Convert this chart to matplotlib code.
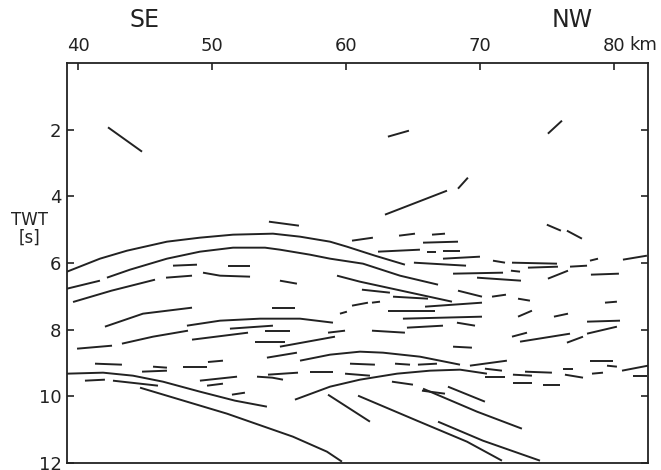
import matplotlib
matplotlib.use('Agg')
import matplotlib.pyplot as plt
import matplotlib.transforms as mtransforms

plt.rc('font', family='DejaVu Sans')

# distance along profile (km) and two-way time (s)
x_ticks = [40, 50, 60, 70, 80]
x_tick_labels = ['40', '50', '60', '70', '80']
y_ticks = [2, 4, 6, 8, 10, 12]
y_tick_labels = ['2', '4', '6', '8', '10', '12']

# long continuous reflectors: lists of (km, s)
curve_a = [(39.18, 6.26), (41.64, 5.87), (43.66, 5.63), (46.64, 5.36), (49.10, 5.24), (51.57, 5.15),
           (54.55, 5.12), (56.57, 5.21), (58.81, 5.36), (60.07, 5.51), (62.16, 5.78), (64.40, 6.05)]
curve_b = [(42.16, 6.44), (43.88, 6.20), (46.64, 5.87), (49.10, 5.66), (51.57, 5.54), (53.96, 5.54),
           (55.07, 5.60), (57.31, 5.75), (58.81, 5.87), (61.27, 6.02), (64.03, 6.38), (66.87, 6.65)]
curve_c = [(59.33, 6.38), (61.04, 6.56), (67.91, 7.16)]
curve_left = [(39.63, 7.17), (42.50, 6.83), (45.75, 6.50)]
curve_d = [(48.13, 7.88), (50.60, 7.73), (53.58, 7.67), (56.57, 7.67), (59.03, 7.79)]
curve_e = [(56.57, 8.93), (58.81, 8.75), (61.04, 8.66), (62.76, 8.69), (65.52, 8.81), (68.51, 9.05)]
curve_f = [(39.18, 9.32), (41.87, 9.29), (44.10, 9.38), (46.34, 9.56), (49.10, 9.86), (51.72, 10.13),
           (54.10, 10.31)]
curve_g = [(44.63, 9.74), (51.12, 10.52), (56.04, 11.21), (58.58, 11.66), (59.70, 11.96)]
curve_h = [(56.19, 10.10), (58.81, 9.71), (61.04, 9.50), (63.81, 9.32), (66.27, 9.23), (68.51, 9.20),
           (70.52, 9.32)]
dip_i = [(58.66, 9.95), (61.79, 10.76)]
dip_j = [(60.90, 9.98), (65.30, 10.73), (69.03, 11.36), (71.64, 11.93)]
dip_k = [(66.87, 10.76), (70.22, 11.33), (74.48, 11.93)]
dip_l = [(65.75, 9.77), (69.78, 10.46), (73.13, 10.97)]
dip_m = [(67.61, 9.71), (70.37, 10.16)]
arc_upper_left = [(42.01, 7.91), (44.85, 7.52), (48.51, 7.34)]
arc_mid_left = [(43.28, 8.42), (45.60, 8.21), (48.21, 8.03)]
dash_curved_1 = [(49.33, 6.29), (50.60, 6.38), (52.84, 6.41)]
dash_curved_2 = [(53.36, 9.41), (54.50, 9.44), (55.30, 9.50)]

long_lines = [curve_a, curve_b, curve_c, curve_left, curve_d, curve_e, curve_f, curve_g, curve_h,
              dip_i, dip_j, dip_k, dip_l, dip_m, arc_upper_left, arc_mid_left,
              dash_curved_1, dash_curved_2]

# short reflector segments: (km1, s1, km2, s2)
shallow_dashes = [
    (42.24, 1.93, 44.78, 2.66), (63.13, 2.21, 64.70, 2.03), (75.07, 2.12, 76.12, 1.73),
    (62.91, 4.55, 67.54, 3.83), (68.36, 3.77, 69.10, 3.44), (74.99, 4.85, 76.04, 5.03),
    (76.49, 5.03, 77.61, 5.27), (54.25, 4.76, 56.49, 4.88),
]
upper_dashes = [
    (60.45, 5.33, 62.01, 5.24), (63.96, 5.18, 65.15, 5.12), (66.42, 5.15, 67.39, 5.12),
    (65.75, 5.39, 68.36, 5.36), (62.39, 5.66, 65.52, 5.60), (66.04, 5.66, 66.72, 5.66),
    (67.24, 5.63, 68.51, 5.63), (67.24, 5.87, 70.00, 5.81), (70.97, 5.93, 71.87, 5.99),
    (72.39, 5.99, 75.75, 6.02), (80.67, 5.90, 82.46, 5.78), (65.07, 5.99, 68.96, 6.08),
    (73.58, 6.14, 75.82, 6.11), (75.07, 6.47, 76.57, 6.23), (76.72, 6.11, 77.99, 6.08),
    (78.21, 5.93, 78.81, 5.87), (78.28, 6.35, 80.37, 6.32), (67.99, 6.32, 71.72, 6.29),
    (72.31, 6.23, 72.99, 6.26), (69.78, 6.44, 73.06, 6.53), (61.19, 6.80, 63.28, 6.89),
    (63.51, 7.01, 66.12, 7.07), (65.90, 7.31, 70.15, 7.19), (68.36, 6.83, 70.15, 7.01),
    (70.90, 7.01, 71.94, 6.95), (72.84, 7.07, 73.73, 7.13), (79.33, 7.19, 80.22, 7.16),
    (59.55, 7.52, 60.07, 7.46), (60.45, 7.28, 61.64, 7.19), (61.94, 7.19, 62.54, 7.16),
    (63.13, 7.43, 66.64, 7.43), (47.09, 6.08, 48.88, 6.05), (51.19, 6.08, 52.84, 6.08),
    (46.57, 6.44, 48.51, 6.38), (55.07, 6.53, 56.34, 6.62), (54.48, 7.34, 56.19, 7.34),
    (39.18, 6.77, 41.64, 6.53),
]
middle_dashes = [
    (51.34, 7.97, 54.55, 7.88), (53.96, 8.03, 55.82, 8.03), (58.66, 8.09, 59.93, 8.03),
    (39.93, 8.57, 42.54, 8.48), (48.51, 8.30, 52.69, 8.09), (53.21, 8.36, 55.45, 8.36),
    (55.07, 8.51, 59.18, 8.21), (54.10, 8.84, 56.34, 8.69), (64.25, 7.67, 70.15, 7.61),
    (64.55, 7.94, 67.24, 7.88), (68.28, 7.79, 69.63, 7.88), (61.94, 8.03, 64.40, 8.09),
    (67.99, 8.51, 69.40, 8.54), (72.84, 7.61, 73.88, 7.43), (75.52, 7.61, 76.57, 7.52),
    (77.99, 7.76, 80.45, 7.73), (77.99, 8.12, 80.22, 7.91), (72.39, 8.21, 73.51, 8.09),
    (72.99, 8.36, 76.72, 8.12), (76.49, 8.39, 77.69, 8.21),
]
deep_dashes = [
    (41.27, 9.02, 43.28, 9.05), (45.60, 9.11, 46.64, 9.14), (44.78, 9.26, 46.64, 9.23),
    (47.84, 9.11, 49.63, 9.11), (49.70, 8.97, 50.82, 8.93), (60.30, 9.02, 62.16, 9.05),
    (63.66, 9.02, 64.78, 9.05), (65.37, 9.05, 66.79, 9.02), (69.25, 9.08, 72.01, 8.93),
    (70.37, 9.17, 71.64, 9.23), (78.21, 8.93, 79.93, 8.93), (79.48, 9.08, 80.22, 9.11),
    (80.60, 9.23, 82.54, 9.08), (40.52, 9.53, 42.01, 9.50), (42.61, 9.53, 45.97, 9.68),
    (49.10, 9.53, 51.87, 9.41), (54.18, 9.35, 56.42, 9.29), (57.31, 9.26, 59.03, 9.26),
    (59.93, 9.32, 61.79, 9.38), (70.37, 9.41, 71.87, 9.41), (72.46, 9.35, 73.88, 9.38),
    (73.36, 9.26, 75.37, 9.29), (76.19, 9.17, 76.94, 9.17), (76.34, 9.35, 77.69, 9.44),
    (78.36, 9.32, 79.18, 9.29), (81.42, 9.38, 82.46, 9.38), (49.63, 9.68, 50.82, 9.62),
    (51.49, 9.95, 52.46, 9.89), (63.43, 9.56, 65.00, 9.65), (65.67, 9.83, 67.39, 9.92),
    (72.46, 9.59, 73.88, 9.59), (74.70, 9.65, 75.97, 9.65),
]

ink = '#222222'
lw = 1.4

fig = plt.figure(figsize=(6.61, 4.70), dpi=100)
ax = fig.add_axes([67 / 661, 1 - 463 / 470, 581 / 661, 400 / 470])

for line in long_lines:
    xs = [p[0] for p in line]
    ys = [p[1] for p in line]
    ax.plot(xs, ys, color=ink, lw=lw, solid_capstyle='butt')

for group in (shallow_dashes, upper_dashes, middle_dashes, deep_dashes):
    for x1, y1, x2, y2 in group:
        ax.plot([x1, x2], [y1, y2], color=ink, lw=lw, solid_capstyle='butt')

ax.set_xlim(39.18, 82.54)
ax.set_ylim(12, 0)

ax.xaxis.tick_top()
ax.set_xticks(x_ticks)
ax.set_xticklabels(x_tick_labels)
ax.set_yticks(y_ticks)
ax.set_yticklabels(y_tick_labels)
ax.tick_params(axis='x', direction='in', length=5, width=1.2, pad=6, labelsize=13, colors=ink,
               top=True, bottom=False)
ax.tick_params(axis='y', direction='in', length=5, width=1.2, pad=4, labelsize=13, colors=ink,
               left=True, right=True)
for sp in ax.spines.values():
    sp.set_linewidth(1.3)
    sp.set_color(ink)

trans = mtransforms.blended_transform_factory(ax.transData, ax.transAxes)
ax.text(81.15, 1.0 + 9 / 400, 'km', transform=trans, ha='left', va='bottom', fontsize=13, color=ink)
ax.text(45.0, 1.0 + 31 / 400, 'SE', transform=trans, ha='center', va='bottom', fontsize=17, color=ink)
ax.text(76.9, 1.0 + 31 / 400, 'NW', transform=trans, ha='center', va='bottom', fontsize=17, color=ink)
ax.text(-0.065, 0.585, 'TWT\n[s]', transform=ax.transAxes, ha='center', va='center', fontsize=12,
        color=ink, linespacing=1.0)

fig.savefig('out.png', dpi=100)
